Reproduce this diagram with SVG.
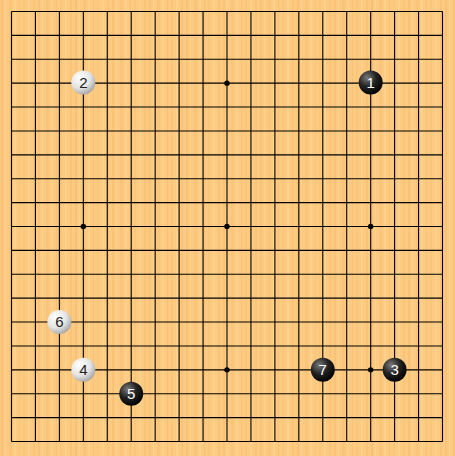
<svg xmlns="http://www.w3.org/2000/svg" width="455" height="456" viewBox="0 0 455 456">
<defs>
<pattern id="wood" width="37" height="456" patternUnits="userSpaceOnUse">
<rect width="37" height="456" fill="#fcca80"/>
<rect x="1" width="2" height="456" fill="#f5bc6f" opacity="0.55"/>
<rect x="5" width="1" height="456" fill="#fed596" opacity="0.7"/>
<rect x="9" width="3" height="456" fill="#f7c075" opacity="0.5"/>
<rect x="14" width="2" height="456" fill="#fed392" opacity="0.6"/>
<rect x="19" width="1" height="456" fill="#f4ba6c" opacity="0.5"/>
<rect x="23" width="2" height="456" fill="#f7c177" opacity="0.45"/>
<rect x="28" width="2" height="456" fill="#fed493" opacity="0.6"/>
<rect x="33" width="2" height="456" fill="#f5bd70" opacity="0.5"/>
</pattern>
<radialGradient id="gb" cx="0.35" cy="0.3" r="0.75">
<stop offset="0" stop-color="#7a7a7a"/>
<stop offset="0.5" stop-color="#222"/>
<stop offset="1" stop-color="#000"/>
</radialGradient>
<radialGradient id="gw" cx="0.35" cy="0.3" r="0.8">
<stop offset="0" stop-color="#fff"/>
<stop offset="0.55" stop-color="#e4e4e4"/>
<stop offset="1" stop-color="#999"/>
</radialGradient>
<style>
.grid line{stroke:#000;stroke-width:1.1}
.star{fill:#000}
.b{fill:url(#gb)}
.w{fill:url(#gw)}
.t{font-family:"Liberation Sans",Arial,sans-serif;font-size:15px;text-anchor:middle}
.tb{fill:#fff}
.tw{fill:#222}
</style>
</defs>
<rect width="455" height="456" fill="url(#wood)"/>
<g id="grid" class="grid">
<line x1="11.5" y1="11.5" x2="442.5" y2="11.5"/>
<line x1="11.5" y1="35.39" x2="442.5" y2="35.39"/>
<line x1="11.5" y1="59.28" x2="442.5" y2="59.28"/>
<line x1="11.5" y1="83.17" x2="442.5" y2="83.17"/>
<line x1="11.5" y1="107.06" x2="442.5" y2="107.06"/>
<line x1="11.5" y1="130.94" x2="442.5" y2="130.94"/>
<line x1="11.5" y1="154.83" x2="442.5" y2="154.83"/>
<line x1="11.5" y1="178.72" x2="442.5" y2="178.72"/>
<line x1="11.5" y1="202.61" x2="442.5" y2="202.61"/>
<line x1="11.5" y1="226.5" x2="442.5" y2="226.5"/>
<line x1="11.5" y1="250.39" x2="442.5" y2="250.39"/>
<line x1="11.5" y1="274.28" x2="442.5" y2="274.28"/>
<line x1="11.5" y1="298.17" x2="442.5" y2="298.17"/>
<line x1="11.5" y1="322.06" x2="442.5" y2="322.06"/>
<line x1="11.5" y1="345.94" x2="442.5" y2="345.94"/>
<line x1="11.5" y1="369.83" x2="442.5" y2="369.83"/>
<line x1="11.5" y1="393.72" x2="442.5" y2="393.72"/>
<line x1="11.5" y1="417.61" x2="442.5" y2="417.61"/>
<line x1="11.5" y1="441.5" x2="442.5" y2="441.5"/>
<line x1="11.5" y1="11.5" x2="11.5" y2="441.5"/>
<line x1="35.44" y1="11.5" x2="35.44" y2="441.5"/>
<line x1="59.39" y1="11.5" x2="59.39" y2="441.5"/>
<line x1="83.33" y1="11.5" x2="83.33" y2="441.5"/>
<line x1="107.28" y1="11.5" x2="107.28" y2="441.5"/>
<line x1="131.22" y1="11.5" x2="131.22" y2="441.5"/>
<line x1="155.17" y1="11.5" x2="155.17" y2="441.5"/>
<line x1="179.11" y1="11.5" x2="179.11" y2="441.5"/>
<line x1="203.06" y1="11.5" x2="203.06" y2="441.5"/>
<line x1="227" y1="11.5" x2="227" y2="441.5"/>
<line x1="250.94" y1="11.5" x2="250.94" y2="441.5"/>
<line x1="274.89" y1="11.5" x2="274.89" y2="441.5"/>
<line x1="298.83" y1="11.5" x2="298.83" y2="441.5"/>
<line x1="322.78" y1="11.5" x2="322.78" y2="441.5"/>
<line x1="346.72" y1="11.5" x2="346.72" y2="441.5"/>
<line x1="370.67" y1="11.5" x2="370.67" y2="441.5"/>
<line x1="394.61" y1="11.5" x2="394.61" y2="441.5"/>
<line x1="418.56" y1="11.5" x2="418.56" y2="441.5"/>
<line x1="442.5" y1="11.5" x2="442.5" y2="441.5"/>
</g>
<g id="stars">
<circle class="star" cx="83.33" cy="83.17" r="2.7"/>
<circle class="star" cx="227" cy="83.17" r="2.7"/>
<circle class="star" cx="370.67" cy="83.17" r="2.7"/>
<circle class="star" cx="83.33" cy="226.5" r="2.7"/>
<circle class="star" cx="227" cy="226.5" r="2.7"/>
<circle class="star" cx="370.67" cy="226.5" r="2.7"/>
<circle class="star" cx="83.33" cy="369.83" r="2.7"/>
<circle class="star" cx="227" cy="369.83" r="2.7"/>
<circle class="star" cx="370.67" cy="369.83" r="2.7"/>
</g>
<g id="stone1"><circle class="b" cx="370.67" cy="82.5" r="12"/><text class="t tb" x="370.67" y="87.8">1</text></g>
<g id="stone2"><circle class="w" cx="83.33" cy="82.5" r="12"/><text class="t tw" x="83.33" y="87.8">2</text></g>
<g id="stone3"><circle class="b" cx="394.61" cy="369.83" r="12"/><text class="t tb" x="394.61" y="375.1">3</text></g>
<g id="stone4"><circle class="w" cx="83.33" cy="369.83" r="12"/><text class="t tw" x="83.33" y="375.1">4</text></g>
<g id="stone5"><circle class="b" cx="131.22" cy="393.72" r="12"/><text class="t tb" x="131.22" y="399">5</text></g>
<g id="stone6"><circle class="w" cx="59.39" cy="322.06" r="12"/><text class="t tw" x="59.39" y="327.3">6</text></g>
<g id="stone7"><circle class="b" cx="322.78" cy="369.83" r="12"/><text class="t tb" x="322.78" y="375.1">7</text></g>
</svg>
